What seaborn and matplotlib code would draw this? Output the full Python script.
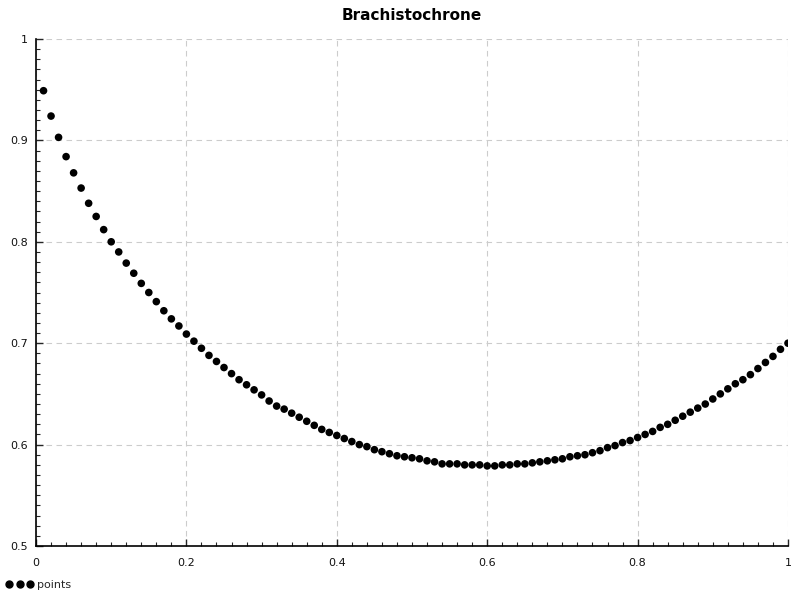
import numpy as np
import pandas as pd
import matplotlib
matplotlib.use("Agg")
import matplotlib.pyplot as plt
from matplotlib.ticker import MultipleLocator, FormatStrFormatter
import seaborn as sns

# x positions of the points (0.01 .. 1.00)
x_vals = [round(0.01 * i, 2) for i in range(1, 101)]

# y values
y_vals = [
    0.949, 0.924, 0.903, 0.884, 0.868, 0.853, 0.838, 0.825, 0.812, 0.800,
    0.790, 0.779, 0.769, 0.759, 0.750, 0.741, 0.732, 0.724, 0.717, 0.709,
    0.702, 0.695, 0.688, 0.682, 0.676, 0.670, 0.664, 0.659, 0.654, 0.649,
    0.643, 0.638, 0.635, 0.631, 0.627, 0.623, 0.619, 0.615, 0.612, 0.609,
    0.606, 0.603, 0.600, 0.598, 0.595, 0.593, 0.591, 0.589, 0.588, 0.587,
    0.586, 0.584, 0.583, 0.581, 0.581, 0.581, 0.580, 0.580, 0.580, 0.579,
    0.579, 0.580, 0.580, 0.581, 0.581, 0.582, 0.583, 0.584, 0.585, 0.586,
    0.588, 0.589, 0.590, 0.592, 0.594, 0.597, 0.599, 0.602, 0.604, 0.607,
    0.610, 0.613, 0.617, 0.620, 0.624, 0.628, 0.632, 0.636, 0.640, 0.645,
    0.650, 0.655, 0.660, 0.664, 0.669, 0.675, 0.681, 0.687, 0.694, 0.700,
]

df = pd.DataFrame({"x": x_vals, "y": y_vals, "series": "points"})

sns.set_style("white")
plt.rcParams["font.family"] = ["DejaVu Sans"]

fig = plt.figure(figsize=(8, 6), dpi=100)
ax = fig.add_axes([0.045, 0.09, 0.94, 0.845])

sns.scatterplot(data=df, x="x", y="y", hue="series", palette=["black"],
                s=30, edgecolor="none", ax=ax, legend=False)

ax.set_xlim(0, 1)
ax.set_ylim(0.5, 1)
ax.xaxis.set_major_locator(MultipleLocator(0.2))
ax.xaxis.set_minor_locator(MultipleLocator(0.02))
ax.yaxis.set_major_locator(MultipleLocator(0.1))
ax.yaxis.set_minor_locator(MultipleLocator(0.01))
ax.xaxis.set_major_formatter(FormatStrFormatter("%g"))
ax.yaxis.set_major_formatter(FormatStrFormatter("%g"))

ax.grid(True, which="major", color="#cccccc", linestyle=(0, (5, 4)), linewidth=0.8)
for s in ["top", "right"]:
    ax.spines[s].set_visible(False)
for s in ["left", "bottom"]:
    ax.spines[s].set_color("black")
    ax.spines[s].set_linewidth(1.2)

ax.tick_params(which="major", direction="in", length=5, width=1, labelsize=8,
               labelcolor="#111111")
ax.tick_params(axis="x", which="major", pad=9)
ax.tick_params(axis="y", which="major", pad=6)
ax.tick_params(which="minor", direction="in", length=3, width=0.8)
ax.tick_params(left=True, bottom=True, which="both")

ax.set_xlabel("")
ax.set_ylabel("")
ax.set_title("Brachistochrone", fontsize=11, fontweight="bold", pad=14, color="black")

# legend below the plot
handle = plt.Line2D([], [], marker="o", linestyle="none", color="black", markersize=5)
fig.legend([handle], ["points"], loc="lower left", bbox_to_anchor=(-0.005, 0.0),
           frameon=False, numpoints=3, fontsize=8, handletextpad=0.3,
           handlelength=2.5, markerscale=1)

fig.savefig("out.png", dpi=100)
